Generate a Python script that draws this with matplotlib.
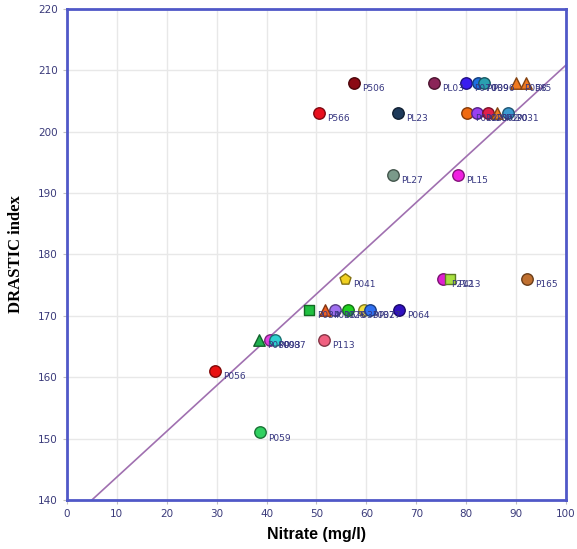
import numpy as np
import matplotlib
matplotlib.use("Agg")
import matplotlib.pyplot as plt

# well data: nitrate (mg/l) vs DRASTIC index
nitrate = [57.5, 73.5, 80.0, 82.4, 83.6, 90.0, 92.0,
           50.5, 66.3, 80.2, 82.2, 84.4, 86.2, 88.4,
           65.3, 78.4,
           55.7, 75.4, 76.8, 92.2,
           48.5, 51.7, 53.7, 56.3, 59.5, 60.7, 66.5,
           38.5, 40.7, 41.7, 51.5,
           29.7, 38.7]
drastic = [208, 208, 208, 208, 208, 208, 208,
           203, 203, 203, 203, 203, 203, 203,
           193, 193,
           176, 176, 176, 176,
           171, 171, 171, 171, 171, 171, 171,
           166, 166, 166, 166,
           161, 151]
labels = ["P506", "PL03", "P070", "P039", "P096", "P058", "PX5",
          "P566", "PL23", "P012", "P023", "P062", "P030", "P031",
          "PL27", "PL15",
          "P041", "P212", "P413", "P165",
          "P034", "P016", "P028", "P033", "P037", "P027", "P064",
          "P080", "P093", "P087", "P113",
          "P056", "P059"]
markers = ["o", "o", "o", "o", "o", "^", "^",
           "o", "o", "o", "o", "o", "^", "o",
           "o", "o",
           "p", "o", "s", "o",
           "s", "^", "o", "o", "o", "o", "o",
           "^", "o", "o", "o",
           "o", "o"]
colors = ["#8B0A14", "#8B2458", "#3A1CF0", "#1E6FE0", "#2AA0B0", "#F07A20", "#F07A20",
          "#E8101E", "#1E3A5A", "#F06A10", "#9A40F0", "#E0204A", "#F08020", "#3A9AD0",
          "#7A9A8A", "#F020E0",
          "#F0D020", "#E020D0", "#A8E040", "#C07030",
          "#20C040", "#F06020", "#A070F0", "#20D020", "#F0E040", "#3070F0", "#3010C0",
          "#20B050", "#E040E0", "#30D0D0", "#F06080",
          "#E81010", "#30D060"]

# fitted trend line
fit_slope = 0.746
fit_intercept = 136.27

x_ticks = np.arange(0, 101, 10)
y_ticks = np.arange(140, 221, 10)

fig = plt.figure(figsize=(5.77, 5.49), dpi=100)
ax = fig.add_axes([0.116, 0.0893, 0.865, 0.8943])

ax.grid(True, color="#E8E8E8", linewidth=1)
ax.set_axisbelow(True)

xl = np.array([0, 100])
ax.plot(xl, fit_intercept + fit_slope * xl, color="#A070B0", linewidth=1.2, zorder=2)

for x, y, lab, m, c in zip(nitrate, drastic, labels, markers, colors):
    ec = [v * 0.55 for v in matplotlib.colors.to_rgb(c)]
    ax.scatter(x, y, s=68 if m != "s" else 42, marker=m, color=c,
               edgecolors=[ec], linewidths=1.0, zorder=3)
    ax.annotate(lab, (x, y), xytext=(6, -4), textcoords="offset points",
                fontsize=6.5, color="#363680", va="center", zorder=4)

ax.set_xlim(0, 100)
ax.set_ylim(140, 220)
ax.set_xticks(x_ticks)
ax.set_yticks(y_ticks)
ax.tick_params(labelsize=7.5, colors="#C0C0C0", labelcolor="#3A3A7A", length=3)
for sp in ax.spines.values():
    sp.set_color("#5058C8")
    sp.set_linewidth(2)

ax.set_xlabel("Nitrate (mg/l)", fontsize=11.5, fontweight="bold",
              family="Liberation Sans", labelpad=6)
ax.set_ylabel("DRASTIC index", fontsize=12, fontweight="bold",
              family="Liberation Serif", labelpad=10)

fig.savefig("out.png", dpi=100)
